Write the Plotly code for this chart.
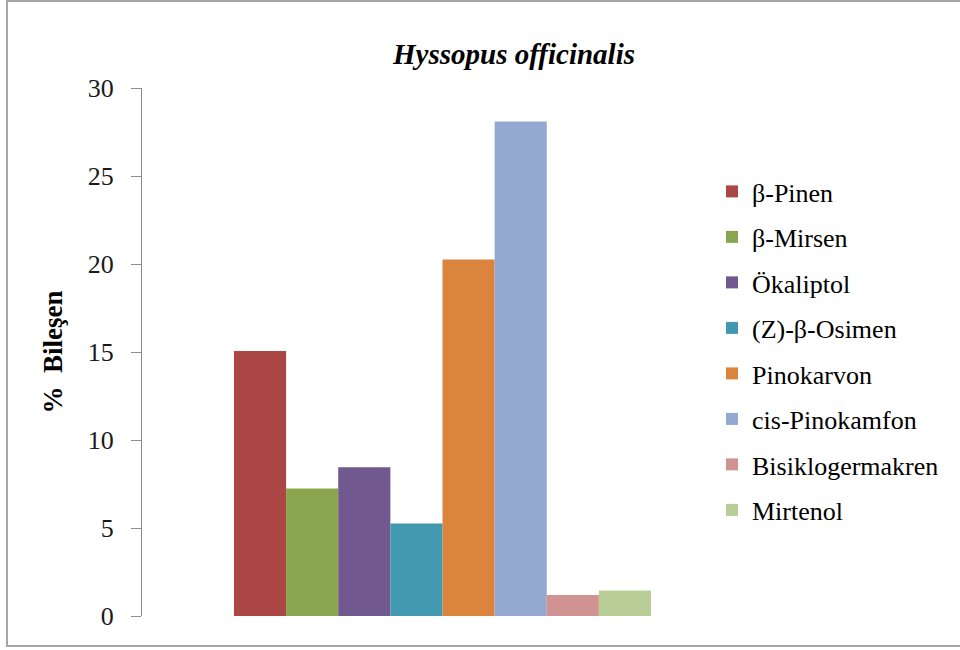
import plotly.graph_objects as go

# Essential-oil composition of Hyssopus officinalis (% of total)
compounds = ["β-Pinen", "β-Mirsen", "Ökaliptol", "(Z)-β-Osimen",
             "Pinokarvon", "cis-Pinokamfon", "Bisiklogermakren", "Mirtenol"]
percent = [15.05, 7.25, 8.45, 5.25, 20.25, 28.1, 1.2, 1.45]
colors = ["#AA4643", "#89A54E", "#71588F", "#4198AF",
          "#DB843D", "#93A9CF", "#D19392", "#B9CD96"]

y_ticks = [0, 5, 10, 15, 20, 25, 30]

SERIF = "Liberation Serif"

fig = go.Figure()
for name, val, col in zip(compounds, percent, colors):
    fig.add_trace(go.Bar(
        x=[0], y=[val], name=name, legendgroup=name,
        marker=dict(color=col, line=dict(width=0)),
    ))

# plot area in pixels: x 142..743, y 88..616
L, R, T, B = 142, 743, 88, 616
W, H = 960, 650
pw, ph = R - L, B - T

def px(x):
    return (x - L) / pw

def py(y):
    return (B - y) / ph

fig.update_layout(
    width=W, height=H,
    margin=dict(l=L, r=W - R, t=T, b=H - B, pad=0),
    paper_bgcolor="white", plot_bgcolor="white",
    barmode="group", bargap=0.306, bargroupgap=0,
    font=dict(family=SERIF, size=26, color="#000000"),
    title=dict(
        text="<b><i>Hyssopus officinalis</i></b>",
        font=dict(family=SERIF, size=29, color="#000000"),
        xref="paper", x=px(514), xanchor="center",
        yref="container", y=1 - 54 / H, yanchor="middle",
    ),
    xaxis=dict(
        range=[-0.5, 0.5], showticklabels=False, showline=False,
        showgrid=False, zeroline=False, ticks="",
    ),
    yaxis=dict(
        range=[0, 30], tickvals=y_ticks, ticktext=[str(v) for v in y_ticks],
        showgrid=False, zeroline=False,
        showline=True, linecolor="#8c8c8c", linewidth=1,
        ticks="outside", ticklen=10, tickcolor="#8c8c8c", tickwidth=1,
        ticklabelstandoff=12,
        tickfont=dict(family=SERIF, size=26, color="#1a1a1a"),
        title=dict(text="<b>%  Bileşen</b>", standoff=17,
                   font=dict(family=SERIF, size=27, color="#000000")),
    ),
    legend=dict(
        x=px(712), xanchor="left", y=py(168), yanchor="top",
        font=dict(family=SERIF, size=26, color="#000000"),
        tracegroupgap=8.7, bgcolor="rgba(0,0,0,0)",
    ),
    showlegend=True,
)

# outer chart frame
fig.add_shape(
    type="rect", xref="paper", yref="paper",
    x0=px(7), x1=px(980), y0=py(646), y1=py(1),
    line=dict(color="#a6a6a6", width=2), fillcolor="rgba(0,0,0,0)",
    layer="below",
)

fig.write_html("out.html")
